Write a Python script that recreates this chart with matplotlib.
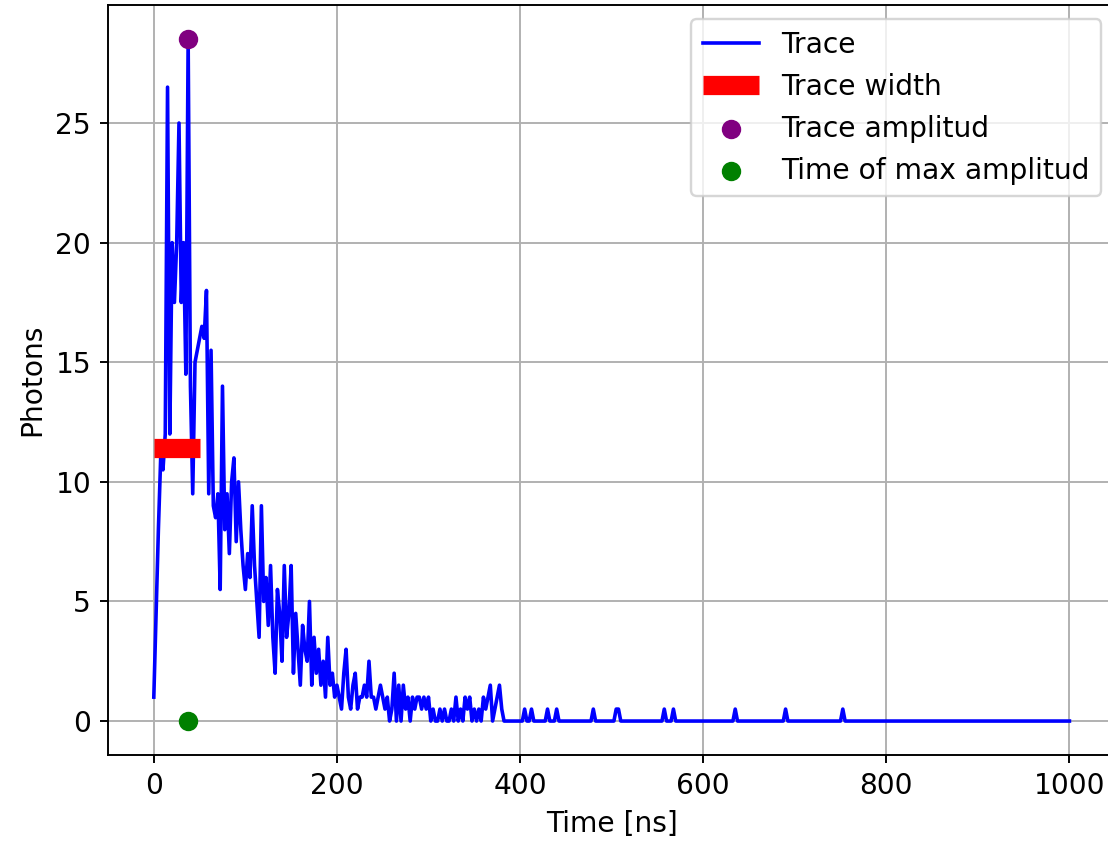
import numpy as np
import matplotlib
matplotlib.use("Agg")
import matplotlib.pyplot as plt

plt.rcParams["font.size"] = 11.7

# sampling of the trace (ns)
dt = 2.5
n_samples = 401

# photons per bin for the first 385 ns
early_photons = [
    1, 4.5, 8, 11, 10.5, 12, 26.5, 12, 20, 17.5,
    20, 25, 17.5, 20, 14.5, 28.5, 14, 9.5, 15, 15.5,
    16, 16.5, 16, 18, 9.5, 15.5, 9, 8.5, 9.5, 5.5,
    14, 8, 9.5, 7, 10, 11, 7.5, 10, 8, 6.5,
    5.5, 7, 6, 9, 6.5, 5, 3.5, 9, 5, 6,
    4, 6.5, 3.5, 2, 5.5, 4.5, 2.5, 6.5, 3.5, 4.5,
    6.5, 2, 4.5, 3, 1.5, 4, 3, 2.5, 5, 1.5,
    3.5, 2, 3, 1.5, 2.5, 1, 3.5, 1.5, 2, 1,
    1.5, 1, 0.5, 2, 3, 1, 0.5, 1.5, 2, 0.5,
    1, 1, 1.5, 1, 2.5, 1, 1, 0.5, 1, 1.5,
    1, 0.5, 1, 0, 0.5, 2, 0, 1.5, 0, 1.5,
    0.5, 1, 0, 1, 0.5, 1, 1, 0.5, 1, 0.5,
    1, 0, 0.5, 0, 0, 0.5, 0, 0.5, 0, 0,
    0.5, 0, 1, 0, 0.5, 0, 1, 0.5, 1, 0,
    0.5, 0, 0.5, 0, 1, 0.5, 1, 1.5, 0, 0.5,
    1, 1.5, 0.5, 0, 0,
]

# isolated single photons in the late tail
tail_times = [405, 412.5, 430, 440, 480, 505, 507.5, 557.5, 567.5, 635, 690, 752.5]
tail_values = [0.5, 0.5, 0.5, 0.5, 0.5, 0.5, 0.5, 0.5, 0.5, 0.5, 0.5, 0.5]

# trace width segment (40% of amplitude)
width_start = 0
width_end = 50
width_fraction = 0.4

time = np.arange(n_samples) * dt
photons = np.zeros(n_samples)
photons[:len(early_photons)] = early_photons
for t, v in zip(tail_times, tail_values):
    photons[int(round(t / dt))] = v

amplitude = photons.max()
t_max = time[np.argmax(photons)]
width_level = width_fraction * amplitude

fig = plt.figure(figsize=(6.4, 841 / 173.125), dpi=173.125)
ax = fig.add_axes([0.0975, 0.1021, 0.909, 0.8917])

ax.plot(time, photons, color="blue", label="Trace")
ax.plot([width_start, width_end], [width_level, width_level], color="red",
        linewidth=8, solid_capstyle="butt", label="Trace width")
ax.scatter([t_max], [amplitude], color="purple", s=50, zorder=3, label="Trace amplitud")
ax.scatter([t_max], [0], color="green", s=50, zorder=3, label="Time of max amplitud")

ax.set_xlabel("Time [ns]")
ax.set_ylabel("Photons")
ax.grid(True)
ax.legend(loc="upper right")

fig.savefig("out.png", dpi=173.125)
